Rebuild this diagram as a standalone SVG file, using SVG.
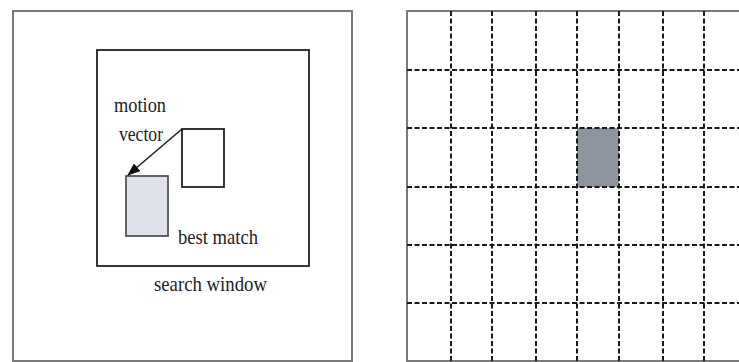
<svg xmlns="http://www.w3.org/2000/svg" width="739" height="362" viewBox="0 0 739 362">
<defs>
<marker id="ah" markerWidth="13" markerHeight="10" refX="12" refY="5" orient="auto" markerUnits="userSpaceOnUse">
<path d="M0,0 L13,5 L0,10 Z" fill="#111"/>
</marker>
<style>
.frame{fill:#fff;stroke:#7a7a7a;stroke-width:2}
.box{fill:#fff;stroke:#222;stroke-width:1.8}
.txt{font-family:"Liberation Serif",serif;font-size:22px;fill:#222}
.grid{stroke:#1a1a1a;stroke-width:2;stroke-dasharray:5 2.5;fill:none}
</style>
</defs>
<rect width="739" height="362" fill="#fff"/>
<g id="left-panel">
<rect class="frame" x="13" y="11" width="339" height="350"/>
</g>
<g id="search-window">
<rect class="box" x="97" y="50" width="212" height="216"/>
<text class="txt" x="154" y="291" textLength="113" lengthAdjust="spacingAndGlyphs">search window</text>
</g>
<g id="current-block">
<rect class="box" x="182" y="129" width="42" height="58"/>
</g>
<g id="best-match">
<rect x="126" y="176" width="42" height="60" fill="#dfe2ea" stroke="#555" stroke-width="1.8"/>
<text class="txt" x="178" y="244" textLength="80" lengthAdjust="spacingAndGlyphs">best match</text>
</g>
<g id="motion-label">
<text class="txt" x="114" y="112" textLength="52" lengthAdjust="spacingAndGlyphs">motion</text>
<text class="txt" x="119" y="141" textLength="44" lengthAdjust="spacingAndGlyphs">vector</text>
</g>
<g id="connectors">
<line x1="182" y1="129" x2="128" y2="175" stroke="#222" stroke-width="1.6" marker-end="url(#ah)"/>
</g>
<g id="right-panel">
<rect class="frame" x="407" y="11" width="340" height="350"/>
<rect x="577" y="128" width="42" height="59" fill="#8e949d"/>
<g class="grid">
<line x1="451" y1="11" x2="451" y2="361"/>
<line x1="492" y1="11" x2="492" y2="361"/>
<line x1="536" y1="11" x2="536" y2="361"/>
<line x1="577" y1="11" x2="577" y2="361"/>
<line x1="619" y1="11" x2="619" y2="361"/>
<line x1="663" y1="11" x2="663" y2="361"/>
<line x1="704" y1="11" x2="704" y2="361"/>
<line x1="407" y1="70" x2="739" y2="70"/>
<line x1="407" y1="128" x2="739" y2="128"/>
<line x1="407" y1="187" x2="739" y2="187"/>
<line x1="407" y1="245" x2="739" y2="245"/>
<line x1="407" y1="303" x2="739" y2="303"/>
</g>
</g>
</svg>
